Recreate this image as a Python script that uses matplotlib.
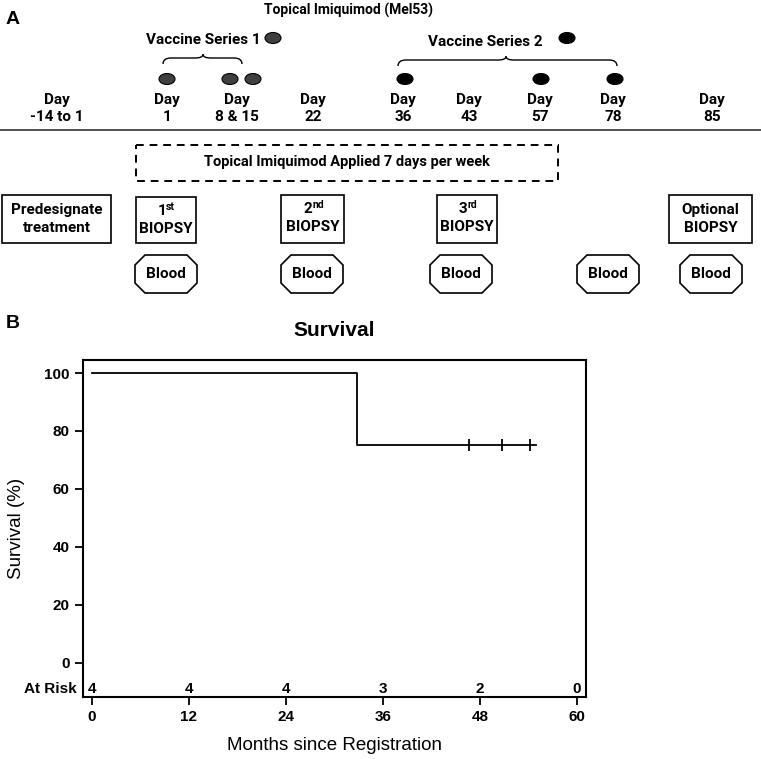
import numpy as np
import matplotlib.pyplot as plt
from matplotlib.patches import Rectangle, Polygon, Ellipse, PathPatch
from matplotlib.path import Path

# ---- Panel A: schedule ----
day_labels = ['-14 to 1', '1', '8 & 15', '22', '36', '43', '57', '78', '85']
day_x = [57, 167, 237, 313, 403, 469, 540, 613, 712]
series1_x = [167, 230, 253]
series2_x = [405, 541, 615]
box_labels = ['Predesignate\ntreatment', 'BIOPSY', 'BIOPSY', 'BIOPSY', 'Optional\nBIOPSY']
box_sup = [None, ('1', 'st'), ('2', 'nd'), ('3', 'rd'), None]
blood_x = [166, 312, 461, 608, 711]

# ---- Panel B: survival ----
surv_t = [0, 32.8, 54.95]
surv_p = [100, 75, 75]
censor_t = [46.7, 50.7, 54.2]
risk_t = [0, 12, 24, 36, 48, 60]
risk_n = [4, 4, 4, 3, 2, 0]

cal = ['Roboto', 'DejaVu Sans']
ari = ['Liberation Sans', 'DejaVu Sans']

fig = plt.figure(figsize=(7.61, 7.59), dpi=100)
ax0 = fig.add_axes([0, 0, 1, 1])
ax0.set_xlim(0, 761)
ax0.set_ylim(759, 0)
ax0.axis('off')


def brace(ax, x0, x1, xc, y, h=6):
    # curly brace opening downward, tip at xc
    r = 8
    verts = [(x0, y + h), (x0, y), (x0 + r, y),
             (xc - r, y), (xc, y), (xc, y - h * 0.6),
             (xc, y), (xc + r, y),
             (x1 - r, y), (x1, y), (x1, y + h)]
    codes = [Path.MOVETO, Path.CURVE3, Path.CURVE3,
             Path.LINETO, Path.CURVE3, Path.CURVE3,
             Path.CURVE3, Path.CURVE3,
             Path.LINETO, Path.CURVE3, Path.CURVE3]
    ax.add_patch(PathPatch(Path(verts, codes), fill=False, lw=1.0, color='black'))


def octagon(ax, xc, yc, w=62, h=38, c=10):
    pts = [(xc - w / 2 + c, yc - h / 2), (xc + w / 2 - c, yc - h / 2),
           (xc + w / 2, yc - h / 2 + c), (xc + w / 2, yc + h / 2 - c),
           (xc + w / 2 - c, yc + h / 2), (xc - w / 2 + c, yc + h / 2),
           (xc - w / 2, yc + h / 2 - c), (xc - w / 2, yc - h / 2 + c)]
    ax.add_patch(Polygon(pts, closed=True, fill=False, lw=1.2, ec='black'))


ax0.text(6, 20, 'A', fontsize=14, fontweight='bold', family=ari, va='center')
ax0.text(348, 10, 'Topical Imiquimod (Mel53)', fontsize=10, fontweight='bold',
         family=cal, ha='center', va='center')

ax0.text(203, 40, 'Vaccine Series 1', fontsize=11, fontweight='bold', family=cal,
         ha='center', va='center')
ax0.text(485, 42, 'Vaccine Series 2', fontsize=11, fontweight='bold', family=cal,
         ha='center', va='center')
ax0.add_patch(Ellipse((273, 38), 16, 11, fc='#404040', ec='black', lw=0.8))
ax0.add_patch(Ellipse((567, 38), 16, 11, fc='black', ec='black', lw=0.8))
brace(ax0, 163, 242, 203, 58)
brace(ax0, 398, 617, 506, 60)

for x in series1_x:
    ax0.add_patch(Ellipse((x, 79), 16, 11, fc='#404040', ec='black', lw=0.8))
for x in series2_x:
    ax0.add_patch(Ellipse((x, 79), 16, 11, fc='black', ec='black', lw=0.8))

for x, lab in zip(day_x, day_labels):
    ax0.text(x, 100, 'Day', fontsize=11, fontweight='bold', family=cal,
             ha='center', va='center')
    ax0.text(x, 117, lab, fontsize=11, fontweight='bold', family=cal,
             ha='center', va='center')
ax0.plot([0, 761], [130, 130], color='#333333', lw=1.2)

ax0.add_patch(Rectangle((136, 145), 422, 36, fill=False, ls=(0, (4, 3)),
                        lw=1.4, ec='black'))
ax0.text(347, 162, 'Topical Imiquimod Applied 7 days per week', fontsize=10.5,
         fontweight='bold', family=cal, ha='center', va='center')

boxes = [(2, 195, 109, 48), (136, 197, 60, 46), (281, 195, 63, 48),
         (437, 195, 60, 48), (669, 195, 83, 48)]
for (bx, by, bw, bh), lab, sup in zip(boxes, box_labels, box_sup):
    ax0.add_patch(Rectangle((bx, by), bw, bh, fill=False, lw=1.2, ec='black'))
    cx = bx + bw / 2
    if sup is None:
        ax0.text(cx, by + bh / 2, lab, fontsize=11, fontweight='bold',
                 family=cal, ha='center', va='center', linespacing=1.3)
    else:
        ax0.text(cx, by + 14, sup[0], fontsize=11, fontweight='bold',
                 family=cal, ha='right', va='center')
        ax0.text(cx, by + 10, sup[1], fontsize=7.5, fontweight='bold',
                 family=cal, ha='left', va='center')
        ax0.text(cx, by + 32, lab, fontsize=11, fontweight='bold',
                 family=cal, ha='center', va='center')

for x in blood_x:
    octagon(ax0, x, 274)
    ax0.text(x, 274, 'Blood', fontsize=11, fontweight='bold', family=cal,
             ha='center', va='center')

# ---- Panel B ----
ax0.text(6, 324, 'B', fontsize=14, fontweight='bold', family=ari, va='center')

ax = fig.add_axes([0.1087, 0.0817, 0.6614, 0.444])
ax.step(surv_t, surv_p, where='post', color='black', lw=1.3)
ax.plot(censor_t, [75] * len(censor_t), ls='none', marker='|', ms=9, mew=1.3,
        color='black')
ax.set_xlim(-1.15, 61.14)
ax.set_ylim(-11.84, 104.5)
ax.set_xticks(risk_t)
ax.set_yticks([0, 20, 40, 60, 80, 100])
ax.tick_params(direction='out', length=6, width=1.3, labelsize=11)
for lab in ax.get_xticklabels() + ax.get_yticklabels():
    lab.set_fontweight('bold')
    lab.set_family(ari)
for s in ax.spines.values():
    s.set_linewidth(1.5)

for t, n in zip(risk_t, risk_n):
    ax.text(t, -9.1, str(n), fontsize=11, fontweight='bold', family=ari,
            ha='center', va='center')
ax.text(-1.9, -9.1, 'At Risk', fontsize=11, fontweight='bold', family=ari,
        ha='right', va='center')

ax.set_title('Survival', fontsize=15, fontweight='bold', family=ari, pad=17)
ax.set_xlabel('Months since Registration', fontsize=13.5, family=ari, labelpad=9)
ax.set_ylabel('Survival (%)', fontsize=13.5, family=ari, labelpad=14)

fig.savefig('out.png', dpi=100)
